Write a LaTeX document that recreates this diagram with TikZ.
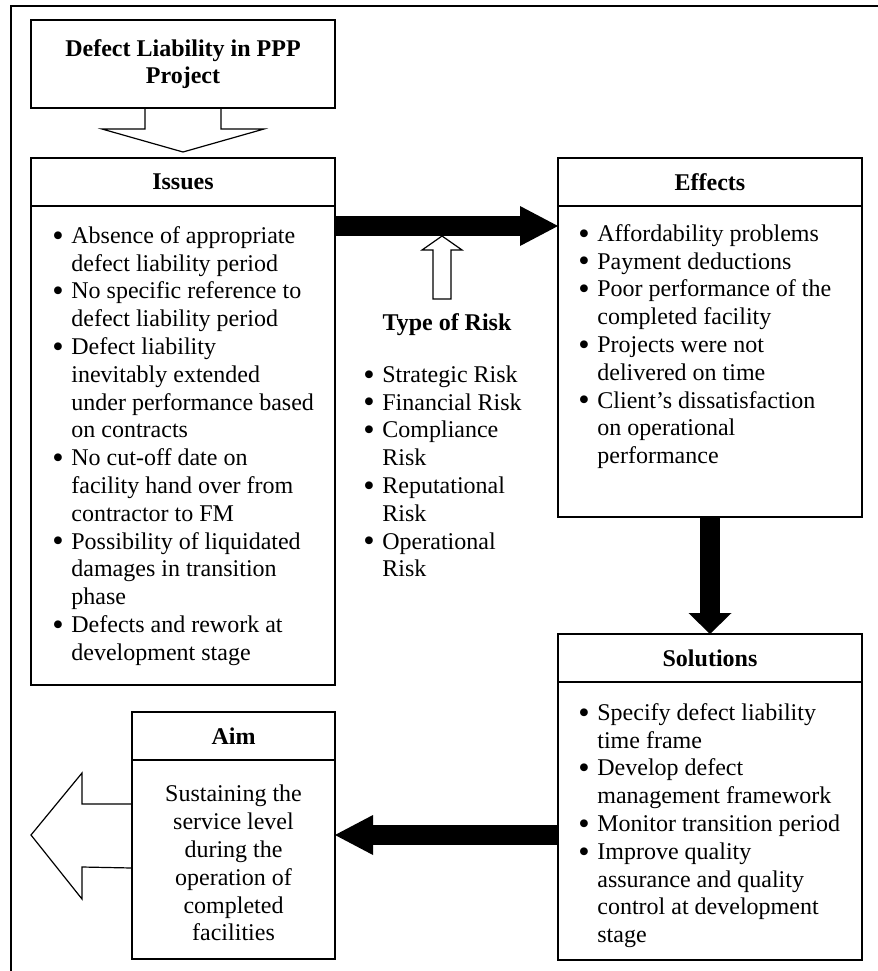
\documentclass[tikz,border=0pt]{standalone}
\usepackage{fontspec}
\setmainfont{Liberation Serif}
\usetikzlibrary{positioning,arrows.meta,calc}
\newcommand{\bul}{\strut\makebox[9.5pt][l]{\raisebox{-1.4pt}{\scalebox{1.35}{\textbullet}}}}
\newcommand{\cont}{\hspace*{9.5pt}}

\begin{document}
\begin{tikzpicture}[x=0.5pt,y=-0.5pt,
    box/.style={draw,line width=0.6pt,inner sep=0pt,outer sep=0pt,minimum width=152pt},
    head/.style={box,minimum height=24pt,font=\fontsize{12}{13.9}\selectfont\bfseries},
    list/.style={align=left,inner sep=0pt,anchor=north west,font=\fontsize{12}{13.9}\selectfont},
    bigarrow/.style={line width=10pt,-{Triangle[length=19pt,width=20pt,line width=0pt]}},
    hollow/.style={draw,line width=0.6pt,line join=miter}]
      \useasboundingbox (0,0) rectangle (878,971);

      \draw[line width=0.8pt] (11,971) -- (11,6) -- (878,6);

      \node[box,minimum height=44pt,anchor=north west,align=center,font=\fontsize{12}{13.9}\selectfont\bfseries] (title) at (31,20) {Defect Liability in PPP\\Project};

      \node[head,anchor=north west] (issuesH) at (31,158) {Issues};
      \node[box,minimum height=239.5pt,below=0pt of issuesH] (issues) {};
      \node[head,anchor=north west] (effectsH) at (558,158) {Effects};
      \node[box,minimum height=155.5pt,below=0pt of effectsH] (effects) {};
      \node[head,anchor=north west] (solutionsH) at (558,634) {Solutions};
      \node[box,minimum height=139pt,below=0pt of solutionsH] (solutions) {};
      \node[head,anchor=north west,minimum width=101.5pt] (aimH) at (132,712) {Aim};
      \node[box,minimum width=101.5pt,minimum height=99.5pt,below=0pt of aimH] (aim) {};

      \node[list] (issuesL) at ($(issues.north west)+(21,17.5)$) {
        \bul Absence of appropriate\\
        \cont defect liability period\\
        \bul No specific reference to\\
        \cont defect liability period\\
        \bul Defect liability\\
        \cont inevitably extended\\
        \cont under performance based\\
        \cont on contracts\\
        \bul No cut-off date on\\
        \cont facility hand over from\\
        \cont contractor to FM\\
        \bul Possibility of liquidated\\
        \cont damages in transition\\
        \cont phase\\
        \bul Defects and rework at\\
        \cont development stage
      };
      \node[list] (effectsL) at ($(effects.north west)+(20,15.5)$) {
        \bul Affordability problems\\
        \bul Payment deductions\\
        \bul Poor performance of the\\
        \cont completed facility\\
        \bul Projects were not\\
        \cont delivered on time\\
        \bul Client’s dissatisfaction\\
        \cont on operational\\
        \cont performance
      };
      \node[list] (solutionsL) at ($(solutions.north west)+(20,18.5)$) {
        \bul Specify defect liability\\
        \cont time frame\\
        \bul Develop defect\\
        \cont management framework\\
        \bul Monitor transition period\\
        \bul Improve quality\\
        \cont assurance and quality\\
        \cont control at development\\
        \cont stage
      };
      \node[list,anchor=north,align=center] (aimL) at ($(aim.north)+(0,22)$) {
        \strut Sustaining the\\
        service level\\
        during the\\
        operation of\\
        completed\\
        facilities
      };

      \node[anchor=base,inner sep=0pt,font=\fontsize{12}{13.9}\selectfont\bfseries] (riskH) at (447,330) {Type of Risk};
      \node[list] (riskL) at (363,362.5) {
        \bul Strategic Risk\\
        \bul Financial Risk\\
        \bul Compliance\\
        \cont Risk\\
        \bul Reputational\\
        \cont Risk\\
        \bul Operational\\
        \cont Risk
      };

      % block arrows
      \draw[hollow] ($(title.south)+(-38,0)$) -- ++(0,21) -- ++(-43,0) -- ($(issuesH.north)+(0,-6)$) -- ++(81,-23) -- ++(-43,0) -- ($(title.south)+(38,0)$);
      \draw[bigarrow] ($(issues.north east)+(0,20)$) -- ($(effects.north west)+(0,20)$);
      \coordinate (risktip) at ($(issues.north east)!0.48!(effects.north west)+(0,30)$);
      \draw[hollow] (risktip) -- ++(20,14) -- ++(-11,0) -- ++(0,49) -- ++(-18,0) -- ++(0,-49) -- ++(-11,0) -- cycle;
      \draw[line width=10pt,-{Triangle[length=10.5pt,width=21.5pt,line width=0pt]}] (effects.south) -- (solutionsH.north);
      \coordinate (aimtip) at ($(aim.north east)+(0,75)$);
      \draw[bigarrow] (solutions.west |- aimtip) -- (aimtip);
      \draw[hollow] ($(aim.north west)+(0,44)$) -- ++(-50,0) -- ++(0,-31) -- ++(-51,62) -- ++(51,64) -- ++(0,-32) -- ($(aim.north west)+(0,108)$);
    \end{tikzpicture}
\end{document}
